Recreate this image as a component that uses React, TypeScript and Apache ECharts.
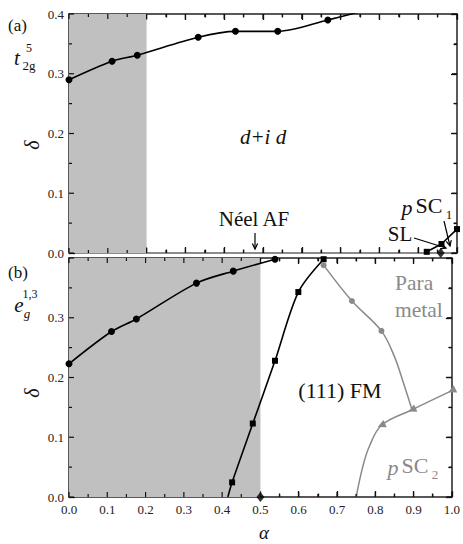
import React, { useEffect, useRef } from "react";
import * as echarts from "echarts";

const FONT = "Liberation Serif, Times New Roman, serif";
const GRAY = "#8a8a8a";
const SHADE = "#c0c0c0";

// ---------- Panel (a): t2g^5 ----------
const shadeA = [0, 0.2];
const sBoundaryA: number[][] = [
  [0, 0.29], [0.111, 0.321], [0.176, 0.331], [0.333, 0.361],
  [0.429, 0.371], [0.538, 0.371], [0.667, 0.39], [0.745, 0.403],
];
const sBoundaryAUnmarked = [7];
const slBoundaryA: number[][] = [[0.922, 0.002], [0.96, 0.015], [1.0, 0.04]];
const diamondA: number[][] = [[0.958, 0]];

// ---------- Panel (b): eg^{1,3} ----------
const shadeB = [0, 0.5];
const sBoundaryB: number[][] = [
  [0, 0.223], [0.111, 0.277], [0.176, 0.298], [0.333, 0.358],
  [0.429, 0.378], [0.538, 0.398],
];
const fmBoundaryB: number[][] = [
  [0.415, 0], [0.426, 0.0245], [0.48, 0.123], [0.538, 0.228],
  [0.599, 0.343], [0.665, 0.398],
];
const fmBoundaryBUnmarked = [0];
const diamondB: number[][] = [[0.5, 0]];
const paraBoundaryB: number[][] = [
  [0.665, 0.388], [0.739, 0.328], [0.816, 0.278], [0.85, 0.235],
  [0.874, 0.19], [0.896, 0.146],
];
const paraBoundaryBUnmarked = [3, 4, 5];
const pSC2BoundaryB: number[][] = [
  [0.75, 0], [0.767, 0.05], [0.784, 0.084], [0.816, 0.12],
  [0.896, 0.146], [1.0, 0.178],
];
const pSC2BoundaryBUnmarked = [0, 1, 2];

// axes
const xRange = [0, 1];
const yRange = [0, 0.4];
const tickStep = 0.1;
const minorStep = 0.05;

function withMarks(data: number[][], unmarked: number[], extra: any = {}) {
  return data.map((d, i) =>
    unmarked.includes(i) ? { value: d, symbol: "none" } : { value: d, ...extra }
  );
}

function arrow(x1: number, y1: number, x2: number, y2: number, color = "#000") {
  const ang = Math.atan2(y2 - y1, x2 - x1);
  const L = 6, spread = 0.45;
  const a1 = [x2 - L * Math.cos(ang - spread), y2 - L * Math.sin(ang - spread)];
  const a2 = [x2 - L * Math.cos(ang + spread), y2 - L * Math.sin(ang + spread)];
  return [
    { type: "line", shape: { x1, y1, x2, y2 }, style: { stroke: color, lineWidth: 1.2 }, silent: true },
    { type: "polyline", shape: { points: [a1, [x2, y2], a2] }, style: { stroke: color, lineWidth: 1.2, fill: null }, silent: true },
  ];
}

function txt(text: string, x: number, y: number, size: number, opts: any = {}) {
  return {
    type: "text",
    x, y,
    rotation: opts.rotation || 0,
    silent: true,
    style: {
      text,
      fontFamily: FONT,
      fontSize: size,
      fontStyle: opts.italic ? "italic" : "normal",
      fill: opts.color || "#111",
      align: opts.align || "center",
      verticalAlign: "middle",
    },
  };
}

export default function App() {
  const ref = useRef<HTMLDivElement>(null);
  useEffect(() => {
    if (!ref.current) return;
    const chart = echarts.init(ref.current, undefined, { renderer: "svg" });

    const grids = [
      { left: 69, top: 14, width: 388, height: 239 },
      { left: 69, top: 258, width: 388, height: 239 },
    ];

    const axisLine = (color = "#222", width = 1.5) => ({ show: true, onZero: false, lineStyle: { color, width } });
    const ticks = { show: true, inside: true, length: 6, lineStyle: { color: "#111", width: 1.3 } };
    const minor = { show: true, splitNumber: 2, length: 3.5, lineStyle: { color: "#111", width: 1.3 } };
    const lbl = { fontFamily: FONT, fontSize: 13, color: "#222" };

    const xAxis: any[] = [];
    const yAxis: any[] = [];
    [0, 1].forEach((g) => {
      xAxis.push({
        type: "value", gridIndex: g, position: "bottom", min: xRange[0], max: xRange[1], interval: tickStep,
        axisLine: g === 0 ? axisLine("#8c8c8c", 2.2) : axisLine(),
        axisTick: ticks, minorTick: minor, splitLine: { show: false },
        axisLabel: g === 1 ? { ...lbl, margin: 6, formatter: (v: number) => v.toFixed(1) } : { show: false },
      });
      xAxis.push({
        type: "value", gridIndex: g, position: "top", min: xRange[0], max: xRange[1], interval: tickStep,
        axisLine: axisLine(), axisTick: ticks, minorTick: minor, splitLine: { show: false },
        axisLabel: { show: false },
      });
      yAxis.push({
        type: "value", gridIndex: g, position: "left", min: yRange[0], max: yRange[1], interval: tickStep,
        axisLine: axisLine(), axisTick: ticks, minorTick: minor, splitLine: { show: false },
        axisLabel: { ...lbl, margin: 5, showMaxLabel: g === 0, formatter: (v: number) => v.toFixed(1) },
      });
      yAxis.push({
        type: "value", gridIndex: g, position: "right", min: yRange[0], max: yRange[1], interval: tickStep,
        axisLine: axisLine(), axisTick: ticks, minorTick: minor, splitLine: { show: false },
        axisLabel: { show: false },
      });
    });

    const black = "#000";
    const series: any[] = [
      {
        type: "line", xAxisIndex: 0, yAxisIndex: 0, data: [], z: 0,
        markArea: { silent: true, itemStyle: { color: SHADE, opacity: 1 },
          data: [[{ xAxis: shadeA[0], yAxis: yRange[0] }, { xAxis: shadeA[1], yAxis: yRange[1] }]] },
      },
      {
        type: "line", xAxisIndex: 2, yAxisIndex: 2, data: [], z: 0,
        markArea: { silent: true, itemStyle: { color: SHADE, opacity: 1 },
          data: [[{ xAxis: shadeB[0], yAxis: yRange[0] }, { xAxis: shadeB[1], yAxis: yRange[1] }]] },
      },
      // panel a
      {
        type: "line", xAxisIndex: 0, yAxisIndex: 0, smooth: 0.3, clip: true,
        data: withMarks(sBoundaryA, sBoundaryAUnmarked),
        symbol: "circle", symbolSize: 7, showAllSymbol: true,
        lineStyle: { color: black, width: 1.6 }, itemStyle: { color: black },
      },
      {
        type: "line", xAxisIndex: 0, yAxisIndex: 0, data: slBoundaryA, clip: false,
        symbol: "rect", symbolSize: 6, lineStyle: { color: black, width: 1.6 }, itemStyle: { color: black },
      },
      {
        type: "scatter", xAxisIndex: 0, yAxisIndex: 0, data: diamondA, clip: false,
        symbol: "diamond", symbolSize: [8, 10], itemStyle: { color: black }, z: 5,
      },
      // panel b
      {
        type: "line", xAxisIndex: 2, yAxisIndex: 2, smooth: 0.3, clip: false,
        data: sBoundaryB, symbol: "circle", symbolSize: 7,
        lineStyle: { color: black, width: 1.6 }, itemStyle: { color: black },
      },
      {
        type: "line", xAxisIndex: 2, yAxisIndex: 2, smooth: 0.3, clip: false,
        data: withMarks(fmBoundaryB, fmBoundaryBUnmarked), symbol: "rect", symbolSize: 6, showAllSymbol: true,
        lineStyle: { color: black, width: 1.6 }, itemStyle: { color: black },
      },
      {
        type: "line", xAxisIndex: 2, yAxisIndex: 2, smooth: 0.35, clip: false,
        data: withMarks(paraBoundaryB, paraBoundaryBUnmarked), symbol: "circle", symbolSize: 6, showAllSymbol: true,
        lineStyle: { color: GRAY, width: 1.5 }, itemStyle: { color: GRAY },
      },
      {
        type: "line", xAxisIndex: 2, yAxisIndex: 2, smooth: 0.35, clip: true,
        data: withMarks(pSC2BoundaryB, pSC2BoundaryBUnmarked, { symbolRotate: 115 }),
        symbol: "triangle", symbolSize: 8, showAllSymbol: true,
        lineStyle: { color: GRAY, width: 1.5 }, itemStyle: { color: GRAY },
      },
      {
        type: "scatter", xAxisIndex: 2, yAxisIndex: 2, data: diamondB, clip: false,
        symbol: "diamond", symbolSize: [8, 10], itemStyle: { color: black }, z: 5,
      },
    ];

    const graphic: any[] = [
      // panel a labels
      txt("(a)", 8, 25, 17, { align: "left" }),
      txt("t", 17, 58, 21, { italic: true }),
      txt("5", 29, 48, 12),
      txt("2g", 29, 65, 13),
      txt("δ", 32, 145, 20, { italic: true, rotation: Math.PI / 2 }),
      txt("s", 126, 37, 22, { italic: true }),
      txt("d+i d", 263, 137, 21, { italic: true }),
      txt("Néel AF", 254, 219, 21),
      ...arrow(255, 233, 255, 249),
      txt("p", 407, 207, 22, { italic: true }),
      txt("SC", 429, 205, 22),
      txt("1", 449, 214, 13),
      txt("SL", 400, 234, 21),
      ...arrow(414, 238, 446, 248),
      ...arrow(444, 221, 450, 246),
      // panel b labels
      txt("(b)", 8, 272, 17, { align: "left" }),
      txt("e", 19, 305, 21, { italic: true }),
      txt("1,3", 30, 294, 12),
      txt("g", 27, 313, 13, { italic: true }),
      txt("δ", 32, 393, 20, { italic: true, rotation: Math.PI / 2 }),
      txt("s", 126, 292, 22, { italic: true }),
      txt("d+i d", 173, 390, 21, { italic: true }),
      txt("Planar", 164, 438, 21.5),
      txt("Néel AF", 165, 465, 21.5),
      ...arrow(165, 477, 165, 494),
      txt("(111) FM", 340, 390, 22),
      txt("Para", 395, 283, 21.5, { align: "left", color: GRAY }),
      txt("metal", 395, 310, 21.5, { align: "left", color: GRAY }),
      txt("p", 393, 467, 22, { italic: true, color: GRAY }),
      txt("SC", 415, 465, 22, { color: GRAY }),
      txt("2", 435, 474, 13, { color: GRAY }),
      txt("α", 264, 532, 19, { italic: true }),
    ];

    chart.setOption({
      animation: false,
      backgroundColor: "#fff",
      grid: grids,
      xAxis,
      yAxis,
      series,
    });

    // Explicit inward ticks on all four sides of each panel, placed with the axes' own scales
    const tickMarks: any[] = [];
    const tickStyle = { stroke: "#111", lineWidth: 1.2 };
    const isMajor = (v: number) => Math.abs(v / tickStep - Math.round(v / tickStep)) < 1e-6;
    [0, 1].forEach((g) => {
      const nx = Math.round((xRange[1] - xRange[0]) / minorStep);
      for (let i = 0; i <= nx; i++) {
        const v = xRange[0] + i * minorStep;
        const len = isMajor(v) ? 5 : 3;
        const pb = chart.convertToPixel({ gridIndex: g } as any, [v, yRange[0]]) as number[];
        const pt = chart.convertToPixel({ gridIndex: g } as any, [v, yRange[1]]) as number[];
        if (!pb || !pt) continue;
        tickMarks.push({ type: "line", silent: true, z: 50, shape: { x1: pb[0], y1: pb[1], x2: pb[0], y2: pb[1] - len }, style: tickStyle });
        tickMarks.push({ type: "line", silent: true, z: 50, shape: { x1: pt[0], y1: pt[1], x2: pt[0], y2: pt[1] + len }, style: tickStyle });
      }
      const ny = Math.round((yRange[1] - yRange[0]) / minorStep);
      for (let i = 0; i <= ny; i++) {
        const v = yRange[0] + i * minorStep;
        const len = isMajor(v) ? 5 : 3;
        const pl = chart.convertToPixel({ gridIndex: g } as any, [xRange[0], v]) as number[];
        const pr = chart.convertToPixel({ gridIndex: g } as any, [xRange[1], v]) as number[];
        if (!pl || !pr) continue;
        tickMarks.push({ type: "line", silent: true, z: 50, shape: { x1: pl[0], y1: pl[1], x2: pl[0] + len, y2: pl[1] }, style: tickStyle });
        tickMarks.push({ type: "line", silent: true, z: 50, shape: { x1: pr[0], y1: pr[1], x2: pr[0] - len, y2: pr[1] }, style: tickStyle });
      }
    });

    chart.setOption({ graphic: [...tickMarks, ...graphic] });
    return () => chart.dispose();
  }, []);

  return (
    <div
      ref={ref}
      style={{ position: "fixed", left: 0, top: 0, width: 463, height: 544, background: "#fff" }}
    />
  );
}
